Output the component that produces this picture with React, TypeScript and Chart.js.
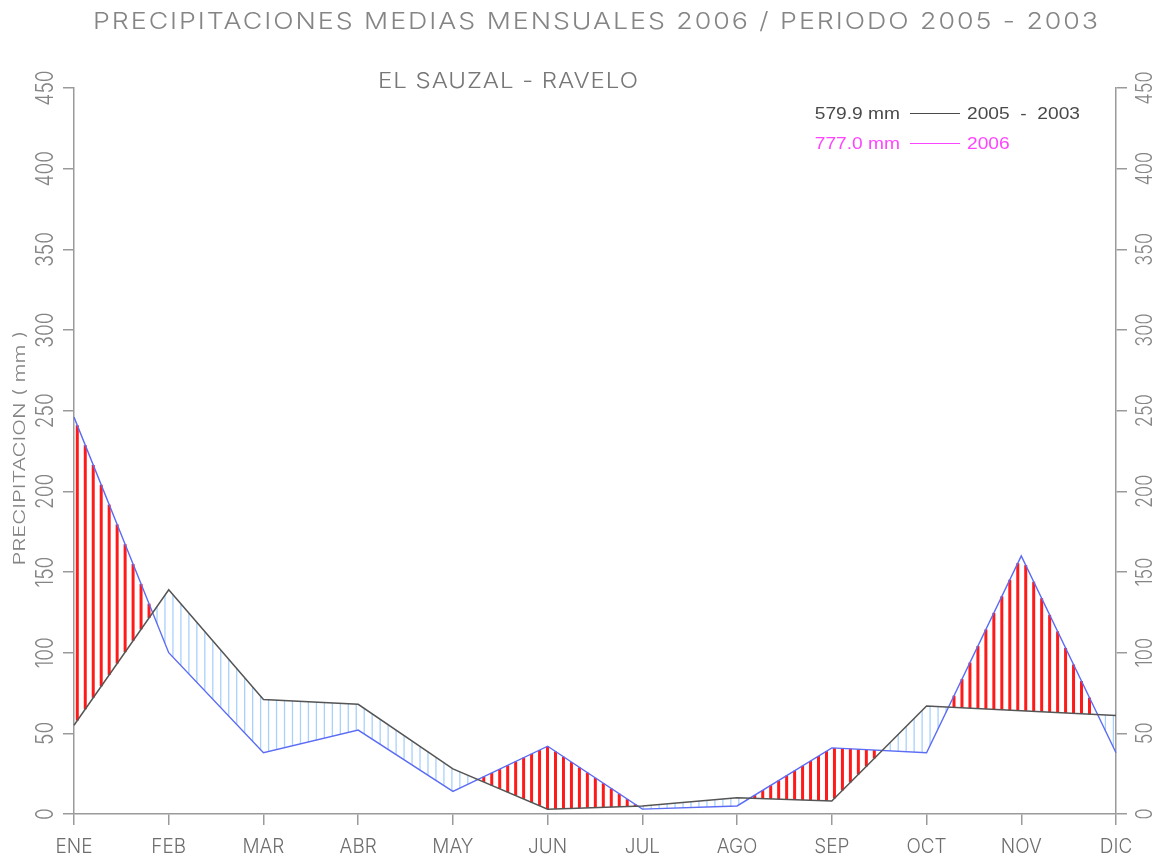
import React, { useEffect, useRef } from 'react';
import { Chart, registerables } from 'chart.js';

Chart.register(...registerables);

// ---------- data ----------
const MONTHS = ['ENE', 'FEB', 'MAR', 'ABR', 'MAY', 'JUN', 'JUL', 'AGO', 'SEP', 'OCT', 'NOV', 'DIC'];
const AVG_2005_2003 = [55, 139, 71, 68, 28, 3, 5, 10, 8, 67, 64, 61];
const PREC_2006 = [246, 100, 38, 52, 14, 42, 3, 5, 41, 38, 160, 38];
const Y_MIN = 0;
const Y_MAX = 450;
const Y_STEP = 50;

const TITLE = 'PRECIPITACIONES MEDIAS MENSUALES 2006 / PERIODO 2005 - 2003';
const SUBTITLE = 'EL SAUZAL - RAVELO';
const Y_TITLE = 'PRECIPITACION ( mm )';
const LEGEND_TOTALS = ['579.9 mm', '777.0 mm'];
const LEGEND_LABELS = ['2005  -  2003', '2006'];

// ---------- style ----------
const FONT = 'Inter, "Open Sans", "DejaVu Sans", sans-serif';
const AXIS_COLOR = '#9a9a9a';
const TEXT_GREY = '#858585';
const AVG_COLOR = '#555555';
const P06_COLOR = '#5b6cf5';
const WET_HATCH = '#ff1a1a';
const DRY_HATCH = '#a9d1fb';
const HATCH_STEP = 7.97;
const HATCH_PHASE = 3.3;

type TextOpts = {
  cap: number;
  sx?: number;
  width?: number;
  spread?: boolean;
  rot?: number;
  color: string;
  align?: CanvasTextAlign;
  weight?: number;
  family?: string;
};

function setFont(ctx: CanvasRenderingContext2D, cap: number, weight = 300, family = FONT) {
  ctx.font = `${weight} ${cap / 0.73}px ${family}`;
}

function fitScale(ctx: CanvasRenderingContext2D, ref: string, cap: number, width: number, weight = 300, family = FONT) {
  ctx.save();
  setFont(ctx, cap, weight, family);
  const w = ctx.measureText(ref).width;
  ctx.restore();
  return width / w;
}

function drawText(ctx: CanvasRenderingContext2D, text: string, x: number, y: number, o: TextOpts) {
  ctx.save();
  ctx.translate(x, y);
  if (o.rot) ctx.rotate(o.rot);
  setFont(ctx, o.cap, o.weight ?? 300, o.family ?? FONT);
  let sx = o.sx ?? 1;
  if (o.width && o.spread) {
    ctx.scale(sx, 1);
    const w = ctx.measureText(text).width * sx;
    const ls = Math.max(0, (o.width - w) / (text.length - 1) / sx);
    (ctx as any).letterSpacing = `${ls}px`;
    ctx.fillStyle = o.color;
    ctx.textAlign = 'left';
    ctx.textBaseline = 'alphabetic';
    ctx.fillText(text, -o.width / 2 / sx, o.cap / 2);
    ctx.restore();
    return;
  }
  if (o.width) sx = o.width / ctx.measureText(text).width;
  ctx.scale(sx, 1);
  ctx.fillStyle = o.color;
  ctx.textAlign = o.align ?? 'center';
  ctx.textBaseline = 'alphabetic';
  ctx.fillText(text, 0, o.cap / 2);
  ctx.restore();
}

const hatchPlugin = {
  id: 'hatchBetween',
  beforeDatasetsDraw(chart: any) {
    const { ctx, chartArea, scales } = chart;
    const xs = scales.x;
    const ys = scales.y;
    const px = MONTHS.map((_, i) => xs.getPixelForValue(i));
    ctx.save();
    ctx.beginPath();
    ctx.rect(chartArea.left, chartArea.top, chartArea.right - chartArea.left, chartArea.bottom - chartArea.top);
    ctx.clip();
    for (let x = chartArea.left + HATCH_PHASE; x <= chartArea.right; x += HATCH_STEP) {
      let i = 0;
      while (i < px.length - 2 && x > px[i + 1]) i++;
      const f = (x - px[i]) / (px[i + 1] - px[i]);
      const a = AVG_2005_2003[i] + (AVG_2005_2003[i + 1] - AVG_2005_2003[i]) * f;
      const b = PREC_2006[i] + (PREC_2006[i + 1] - PREC_2006[i]) * f;
      const ya = ys.getPixelForValue(a);
      const yb = ys.getPixelForValue(b);
      if (Math.abs(ya - yb) < 1.5) continue;
      const wet = b > a;
      ctx.strokeStyle = wet ? WET_HATCH : DRY_HATCH;
      ctx.lineWidth = wet ? 3 : 1.3;
      ctx.beginPath();
      ctx.moveTo(x, ya);
      ctx.lineTo(x, yb);
      ctx.stroke();
    }
    ctx.restore();
  },
};

const textPlugin = {
  id: 'texts',
  afterDraw(chart: any) {
    const { ctx, scales } = chart;
    const xs = scales.x;
    const ys = scales.y;
    const ys2 = scales.y2;

    // titles
    drawText(ctx, TITLE, 595.5, 20, { cap: 17, width: 1005, spread: true, sx: 1.15, color: TEXT_GREY });
    drawText(ctx, SUBTITLE, 508, 80, { cap: 16, width: 260, spread: true, sx: 1.1, color: '#777' });
    drawText(ctx, Y_TITLE, 19, 448, { cap: 12, width: 235, rot: -Math.PI / 2, color: TEXT_GREY });

    // y tick labels (both sides)
    const sy = fitScale(ctx, '250', 18, 35);
    ys.ticks.forEach((t: any) => {
      drawText(ctx, String(t.value), 44, ys.getPixelForValue(t.value), { cap: 18, sx: sy, rot: -Math.PI / 2, color: TEXT_GREY });
    });
    ys2.ticks.forEach((t: any) => {
      drawText(ctx, String(t.value), 1143.5, ys2.getPixelForValue(t.value), { cap: 17, sx: sy, rot: -Math.PI / 2, color: TEXT_GREY });
    });

    // x labels
    const sxl = fitScale(ctx, 'ENE', 15, 37);
    MONTHS.forEach((m, i) => {
      drawText(ctx, m, xs.getPixelForValue(i), 845.5, { cap: 15, sx: sxl, color: '#6e6e6e' });
    });

    // legend
    const LFAM = '"Liberation Sans", Arial, sans-serif';
    const sleg = fitScale(ctx, LEGEND_LABELS[0], 12, 113, 400, LFAM);
    const rows = [
      { y: 113, color: '#4a4a4a' },
      { y: 143, color: '#ff44ff' },
    ];
    rows.forEach((r, k) => {
      drawText(ctx, LEGEND_TOTALS[k], 900, r.y, { cap: 12, sx: sleg, color: r.color, align: 'right', weight: 400, family: LFAM });
      drawText(ctx, LEGEND_LABELS[k], 967, r.y, { cap: 12, sx: sleg, color: r.color, align: 'left', weight: 400, family: LFAM });
      ctx.save();
      ctx.strokeStyle = r.color;
      ctx.lineWidth = 1;
      ctx.beginPath();
      ctx.moveTo(910, r.y + 0.5);
      ctx.lineTo(960, r.y + 0.5);
      ctx.stroke();
      ctx.restore();
    });
  },
};

export default function App() {
  const ref = useRef<HTMLCanvasElement | null>(null);

  useEffect(() => {
    document.body.style.margin = '0';
    const canvas = ref.current;
    if (!canvas) return;
    const gridCommon = {
      display: true,
      drawOnChartArea: false,
      drawTicks: true,
      color: AXIS_COLOR,
      lineWidth: 1.5,
    };
    const borderCommon = { display: true, color: AXIS_COLOR, width: 1.5 };
    const chart = new Chart(canvas, {
      type: 'line',
      data: {
        labels: MONTHS,
        datasets: [
          {
            label: '2005 - 2003',
            data: AVG_2005_2003,
            borderColor: AVG_COLOR,
            borderWidth: 1.5,
            pointRadius: 0,
            tension: 0,
            fill: false,
          },
          {
            label: '2006',
            data: PREC_2006,
            borderColor: P06_COLOR,
            borderWidth: 1.4,
            pointRadius: 0,
            tension: 0,
            fill: false,
          },
        ],
      },
      options: {
        responsive: false,
        animation: false,
        events: [],
        layout: { padding: { top: 88, left: 0, right: 0, bottom: 0 } },
        plugins: {
          legend: { display: false },
          title: { display: false },
          tooltip: { enabled: false },
        },
        scales: {
          x: {
            type: 'category',
            offset: false,
            grid: { ...gridCommon, tickLength: 11 },
            border: borderCommon,
            ticks: { display: false },
            afterFit: (s: any) => {
              s.height = 44;
            },
          },
          y: {
            position: 'left',
            min: Y_MIN,
            max: Y_MAX,
            ticks: { display: false, stepSize: Y_STEP },
            grid: { ...gridCommon, tickLength: 11 },
            border: borderCommon,
            afterFit: (s: any) => {
              s.width = 74;
            },
          },
          y2: {
            position: 'right',
            min: Y_MIN,
            max: Y_MAX,
            ticks: { display: false, stepSize: Y_STEP },
            grid: { ...gridCommon, tickLength: 11 },
            border: borderCommon,
            afterFit: (s: any) => {
              s.width = 41;
            },
          },
        },
      },
      plugins: [hatchPlugin, textPlugin],
    } as any);
    return () => chart.destroy();
  }, []);

  return (
    <div style={{ position: 'fixed', left: 0, top: 0, width: 1157, height: 858, background: '#fff' }}>
      <canvas ref={ref} width={1157} height={858} />
    </div>
  );
}
